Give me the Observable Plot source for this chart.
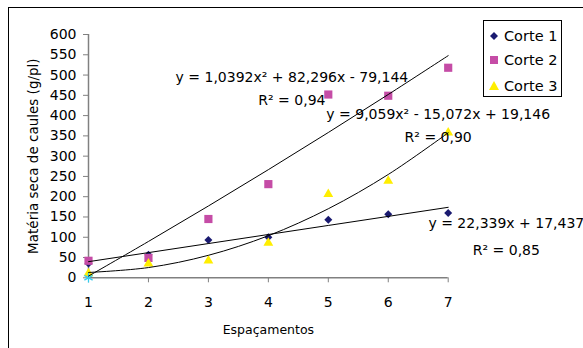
<!DOCTYPE html>
<html>
<head>
<meta charset="utf-8">
<script src="https://cdn.jsdelivr.net/npm/d3@7"></script>
<script src="https://cdn.jsdelivr.net/npm/@observablehq/plot@0.6"></script>
<style>
  body { margin: 0; background: #fff; }
  #wrap { position: relative; width: 583px; height: 348px; overflow: hidden; font-family: "DejaVu Sans", sans-serif; }
  #frame { position: absolute; left: 8px; top: 7px; width: 600px; height: 400px; border-top: 1px solid #000; border-left: 1px solid #000; pointer-events: none; }
  #legend { position: absolute; left: 483px; top: 20px; width: 79px; height: 77px; border: 1px solid #000; background: #fff; box-sizing: border-box; font-size: 14.5px; }
  #legend .row { position: absolute; left: 0; height: 20px; display: flex; align-items: center; }
  #legend svg { width: 20px; height: 20px; }
</style>
</head>
<body>
<div id="wrap">
  <div id="chart"></div>
  <div id="frame"></div>
  <div id="legend"></div>
</div>
<script>
// ---- data ----
const espacamentos = [1, 2, 3, 4, 5, 6, 7];
const corte1 = [35, 57, 93, 100, 143, 157, 160];
const corte2 = [42, 49, 145, 231, 452, 449, 518];
const corte3 = [11, 35, 42, 86, 206, 239, 358];
const serie4X = [1];
const serie4Y = [0];
// trend line values at each espaçamento (from the equations shown on the chart)
const fit1 = [39.78, 62.12, 84.45, 106.79, 129.13, 151.47, 173.81];
const fit2 = [4.19, 89.61, 177.10, 266.67, 358.32, 452.04, 547.85];
const fit3 = [13.13, 25.24, 55.46, 103.80, 170.26, 254.84, 357.53];
const seriesNames = ["Corte 1", "Corte 2", "Corte 3"];
const yTicks = [0, 50, 100, 150, 200, 250, 300, 350, 400, 450, 500, 550, 600];
const xTicks = [1, 2, 3, 4, 5, 6, 7];
const eqLines = [
  {x: 4.393, y: 494, text: "y = 1,0392x² + 82,296x - 79,144"},
  {x: 4.393, y: 436, text: "R² = 0,94"},
  {x: 6.833, y: 403, text: "y = 9,059x² - 15,072x + 19,146"},
  {x: 6.833, y: 346, text: "R² = 0,90"},
  {x: 7.97, y: 133, text: "y = 22,339x + 17,437"},
  {x: 7.97, y: 68, text: "R² = 0,85"}
];
const xTitle = "Espaçamentos";
const yTitle = "Matéria seca de caules (g/pl)";

const colors = {c1: "#1a1a70", c2: "#C54CA6", c3: "#FFEE00", c4: "#33CCEE"};

const toPts = (ys) => espacamentos.map((x, i) => ({x, y: ys[i]}));
const pts1 = toPts(corte1), pts2 = toPts(corte2), pts3 = toPts(corte3);
const f1 = toPts(fit1), f2 = toPts(fit2), f3 = toPts(fit3);
const pts4 = serie4X.map((x, i) => ({x, y: serie4Y[i]}));

const chart = Plot.plot({
  width: 583,
  height: 348,
  marginLeft: 88,
  marginRight: 135.3,
  marginTop: 34,
  marginBottom: 70.7,
  style: {fontFamily: "DejaVu Sans, sans-serif", fontSize: "14px", background: "#fff", color: "#000"},
  x: {domain: [1, 7], ticks: xTicks},
  y: {domain: [0, 600], ticks: yTicks},
  marks: [
    Plot.axisY({ticks: yTicks, tickSize: 5, tickPadding: 7, stroke: "#808080", label: null, fontSize: 14, tickFormat: "d"}),
    Plot.axisX({ticks: xTicks, tickSize: 5, tickPadding: 14, stroke: "#808080", label: null, fontSize: 14, tickFormat: "d"}),
    Plot.ruleX([1], {y1: 0, y2: 600, stroke: "#808080", strokeWidth: 1.5}),
    Plot.ruleY([0], {x1: 1, x2: 7, stroke: "#808080", strokeWidth: 1.5}),
    Plot.dot(pts1, {x: "x", y: "y", symbol: "diamond2", r: 3.6, fill: colors.c1, stroke: "none"}),
    Plot.dot(pts2, {x: "x", y: "y", symbol: "square2", r: 5.2, fill: colors.c2, stroke: "none"}),
    Plot.dot(pts3, {x: "x", y: "y", symbol: "triangle2", r: 4.7, fill: colors.c3, stroke: "none"}),
    Plot.dot(pts4, {x: "x", y: "y", symbol: "asterisk", r: 4.5, stroke: colors.c4, strokeWidth: 1.3}),
    Plot.line(f1, {x: "x", y: "y", stroke: "#000", strokeWidth: 1}),
    Plot.line(f2, {x: "x", y: "y", stroke: "#000", strokeWidth: 1, curve: "catmull-rom"}),
    Plot.line(f3, {x: "x", y: "y", stroke: "#000", strokeWidth: 1, curve: "catmull-rom"}),
    Plot.text(eqLines, {x: "x", y: "y", text: "text", fill: "#000", fontSize: 14, textAnchor: "middle"}),
    Plot.text([xTitle], {frameAnchor: "bottom", lineAnchor: "middle", textAnchor: "middle", dy: 51.7, fontSize: 12.5, fill: "#000"}),
    Plot.text([yTitle], {frameAnchor: "left", rotate: -90, textAnchor: "middle", lineAnchor: "middle", dx: -55, fontSize: 13.5, fill: "#000"})
  ]
});
document.getElementById("chart").appendChild(chart);

// legend
const legend = document.getElementById("legend");
const legendSymbols = [
  `<polygon points="10,6 14,10 10,14 6,10" fill="${colors.c1}"/>`,
  `<rect x="6" y="6" width="8" height="8" fill="${colors.c2}"/>`,
  `<polygon points="10,5 15,14 5,14" fill="${colors.c3}"/>`
];
const rowTops = [5, 29, 55];
seriesNames.forEach((name, i) => {
  const row = document.createElement("div");
  row.className = "row";
  row.style.top = rowTops[i] + "px";
  row.innerHTML = `<svg viewBox="0 0 20 20">${legendSymbols[i]}</svg><span>${name}</span>`;
  legend.appendChild(row);
});
</script>
</body>
</html>
